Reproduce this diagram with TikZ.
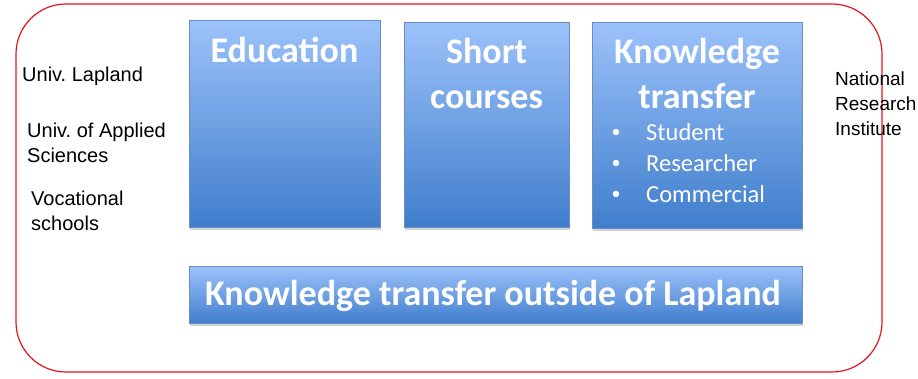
\documentclass[tikz,border=0pt]{standalone}
\usepackage{fontspec}
\setmainfont{Liberation Sans}
\newfontfamily\calfont{Carlito}
\usetikzlibrary{shadows}
\definecolor{boxtop}{HTML}{9CC2FA}
\definecolor{boxbot}{HTML}{407ECC}
\definecolor{boxedge}{HTML}{6A8EC4}
\definecolor{framered}{HTML}{E8141C}
\tikzset{
  boxs/.style={draw=boxedge, line width=0.6pt, top color=boxtop, bottom color=boxbot,
    drop shadow={opacity=0.35, shadow xshift=0.8pt, shadow yshift=-2.5pt},
    anchor=north west, inner sep=0pt},
  boxt/.style={text=white, font=\calfont\bfseries\fontsize{36}{40}\selectfont, anchor=base, inner sep=0pt},
  bul/.style={text=white, font=\calfont\fontsize{24.5}{28}\selectfont, anchor=base west, inner sep=0pt},
  bulmark/.style={text=white, font=\calfont\fontsize{18}{20}\selectfont, anchor=center, inner sep=0pt},
  side/.style={font=\fontsize{20}{24}\selectfont, anchor=base west, inner sep=0pt},
  sider/.style={font=\fontsize{19}{24}\selectfont, anchor=base west, inner sep=0pt},
}
\begin{document}
\frenchspacing
\begin{tikzpicture}[x=1pt,y=-1pt]
\useasboundingbox (0,0) rectangle (918,378);
\clip (0,0) rectangle (918,378);
\fill[white] (0,0) rectangle (918,378);
\draw[framered, line width=1.2pt, rounded corners=50pt] (16,4) rectangle (882,372);
% boxes
\node[boxs, minimum width=191pt, minimum height=207pt] (edu) at (189,20) {};
\node[boxs, minimum width=165pt, minimum height=205pt] (short) at (404,22) {};
\node[boxs, minimum width=210pt, minimum height=206pt] (kt) at (592,22) {};
\node[boxs, minimum width=613pt, minimum height=57pt] (out) at (189,266) {};
% titles
\node[boxt] (edut) at (284.5,62) {Education};
\node[boxt] (shortt1) at (486.5,63) {Short};
\node[boxt] (shortt2) at (486.5,108) {courses};
\node[boxt] (ktt1) at (697,63) {Knowledge};
\node[boxt] (ktt2) at (697,108) {transfer};
\node[boxt] (outt) at (493,305) {Knowledge transfer outside of Lapland};
% bullets
\node[bulmark] (b1) at (616,133) {\textbullet};
\node[bul] (b1t) at (646,140) {Student};
\node[bulmark] (b2) at (616,164) {\textbullet};
\node[bul] (b2t) at (646,171) {Researcher};
\node[bulmark] (b3) at (616,195) {\textbullet};
\node[bul] (b3t) at (646,202) {Commercial};
% side texts
\node[side] (s1) at (22,81) {Univ. Lapland};
\node[side] (s2a) at (27,137) {Univ. of Applied};
\node[side] (s2b) at (27,162) {Sciences};
\node[side] (s3a) at (31,205) {Vocational};
\node[side] (s3b) at (31,230) {schools};
\node[sider] (n1) at (835,85) {National};
\node[sider] (n2) at (835,110) {Research};
\node[sider] (n3) at (835,135) {Institute};
\end{tikzpicture}
\end{document}
